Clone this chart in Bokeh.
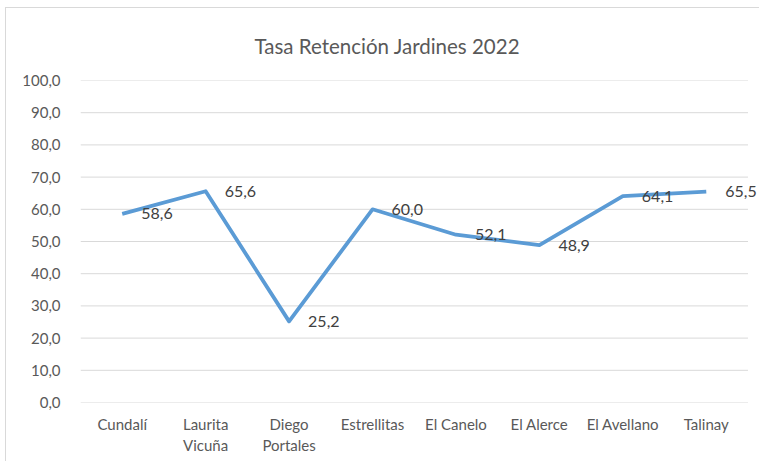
from bokeh.plotting import figure
from bokeh.models import Range1d, FixedTicker, ColumnDataSource, LabelSet, LinearAxis
from bokeh.core.properties import value
from bokeh.embed import file_html
from bokeh.resources import INLINE

title_text = "Tasa Retención Jardines 2022"
categories = ["Cundalí", "Laurita Vicuña", "Diego Portales", "Estrellitas",
              "El Canelo", "El Alerce", "El Avellano", "Talinay"]
label_line1 = ["Cundalí", "Laurita", "Diego", "Estrellitas",
               "El Canelo", "El Alerce", "El Avellano", "Talinay"]
label_line2 = [" ", "Vicuña", "Portales", " ", " ", " ", " ", " "]
retention = [58.6, 65.6, 25.2, 60.0, 52.1, 48.9, 64.1, 65.5]
y_ticks = [0, 10, 20, 30, 40, 50, 60, 70, 80, 90, 100]

FONT = "Lato"
GRAY = "#595959"

n = len(categories)
xs = list(range(n))
x_end = n - 0.5 + 0.15   # room right of the plot area for the last data label

p = figure(width=754, height=454, output_backend="svg", toolbar_location=None,
           x_range=Range1d(-0.5, x_end), y_range=Range1d(0, 100),
           min_border_left=74, min_border_right=0, min_border_top=71, min_border_bottom=60)
p.styles = {"margin-left": "5px", "margin-top": "7px",
            "border-top": "1px solid #d9d9d9", "border-left": "1px solid #d9d9d9"}
p.outline_line_color = None

p.title.text = title_text
p.title.align = "left"
p.title.offset = 174
p.title.standoff = 46
p.title.text_font = FONT
p.title.text_font_size = "20.5px"
p.title.text_font_style = "normal"
p.title.text_color = GRAY

# y axis
p.yaxis.ticker = FixedTicker(ticks=y_ticks)
p.yaxis.major_label_overrides = {t: f"{t:.1f}".replace(".", ",") for t in y_ticks}
p.yaxis.axis_line_color = None
p.yaxis.major_tick_line_color = None
p.yaxis.minor_tick_line_color = None
p.yaxis.major_label_standoff = 14
p.yaxis.major_label_text_font = FONT
p.yaxis.major_label_text_font_size = "15px"
p.yaxis.major_label_text_color = GRAY

# x axis: first line of each category label
def style_xaxis(ax, overrides, standoff):
    ax.ticker = FixedTicker(ticks=xs)
    ax.major_label_overrides = overrides
    ax.axis_line_color = None
    ax.major_tick_line_color = None
    ax.minor_tick_line_color = None
    ax.major_tick_out = 0
    ax.minor_tick_out = 0
    ax.major_label_standoff = standoff
    ax.major_label_text_font = FONT
    ax.major_label_text_font_size = "15px"
    ax.major_label_text_color = GRAY

style_xaxis(p.xaxis[0], dict(zip(xs, label_line1)), 12)
ax2 = LinearAxis()
style_xaxis(ax2, dict(zip(xs, label_line2)), 0)
p.add_layout(ax2, "below")

# horizontal gridlines across the category area only
p.xgrid.grid_line_color = None
p.ygrid.grid_line_color = None
p.segment(x0=-0.5, x1=n - 0.5, y0=y_ticks, y1=y_ticks, line_color="#d9d9d9", line_width=1)

src = ColumnDataSource(dict(
    x=xs, y=retention,
    lab=[f"{v:.1f}".replace(".", ",") for v in retention]))

p.line("x", "y", source=src, line_color="#5b9bd5", line_width=3.8, line_join="round")
labels = LabelSet(x="x", y="y", text="lab", source=src, x_offset=19, y_offset=0,
                  text_align="left", text_baseline="middle",
                  text_font=value(FONT), text_font_size="16px", text_color="#404040")
p.add_layout(labels)

open("out.html", "w").write(file_html(p, INLINE))
